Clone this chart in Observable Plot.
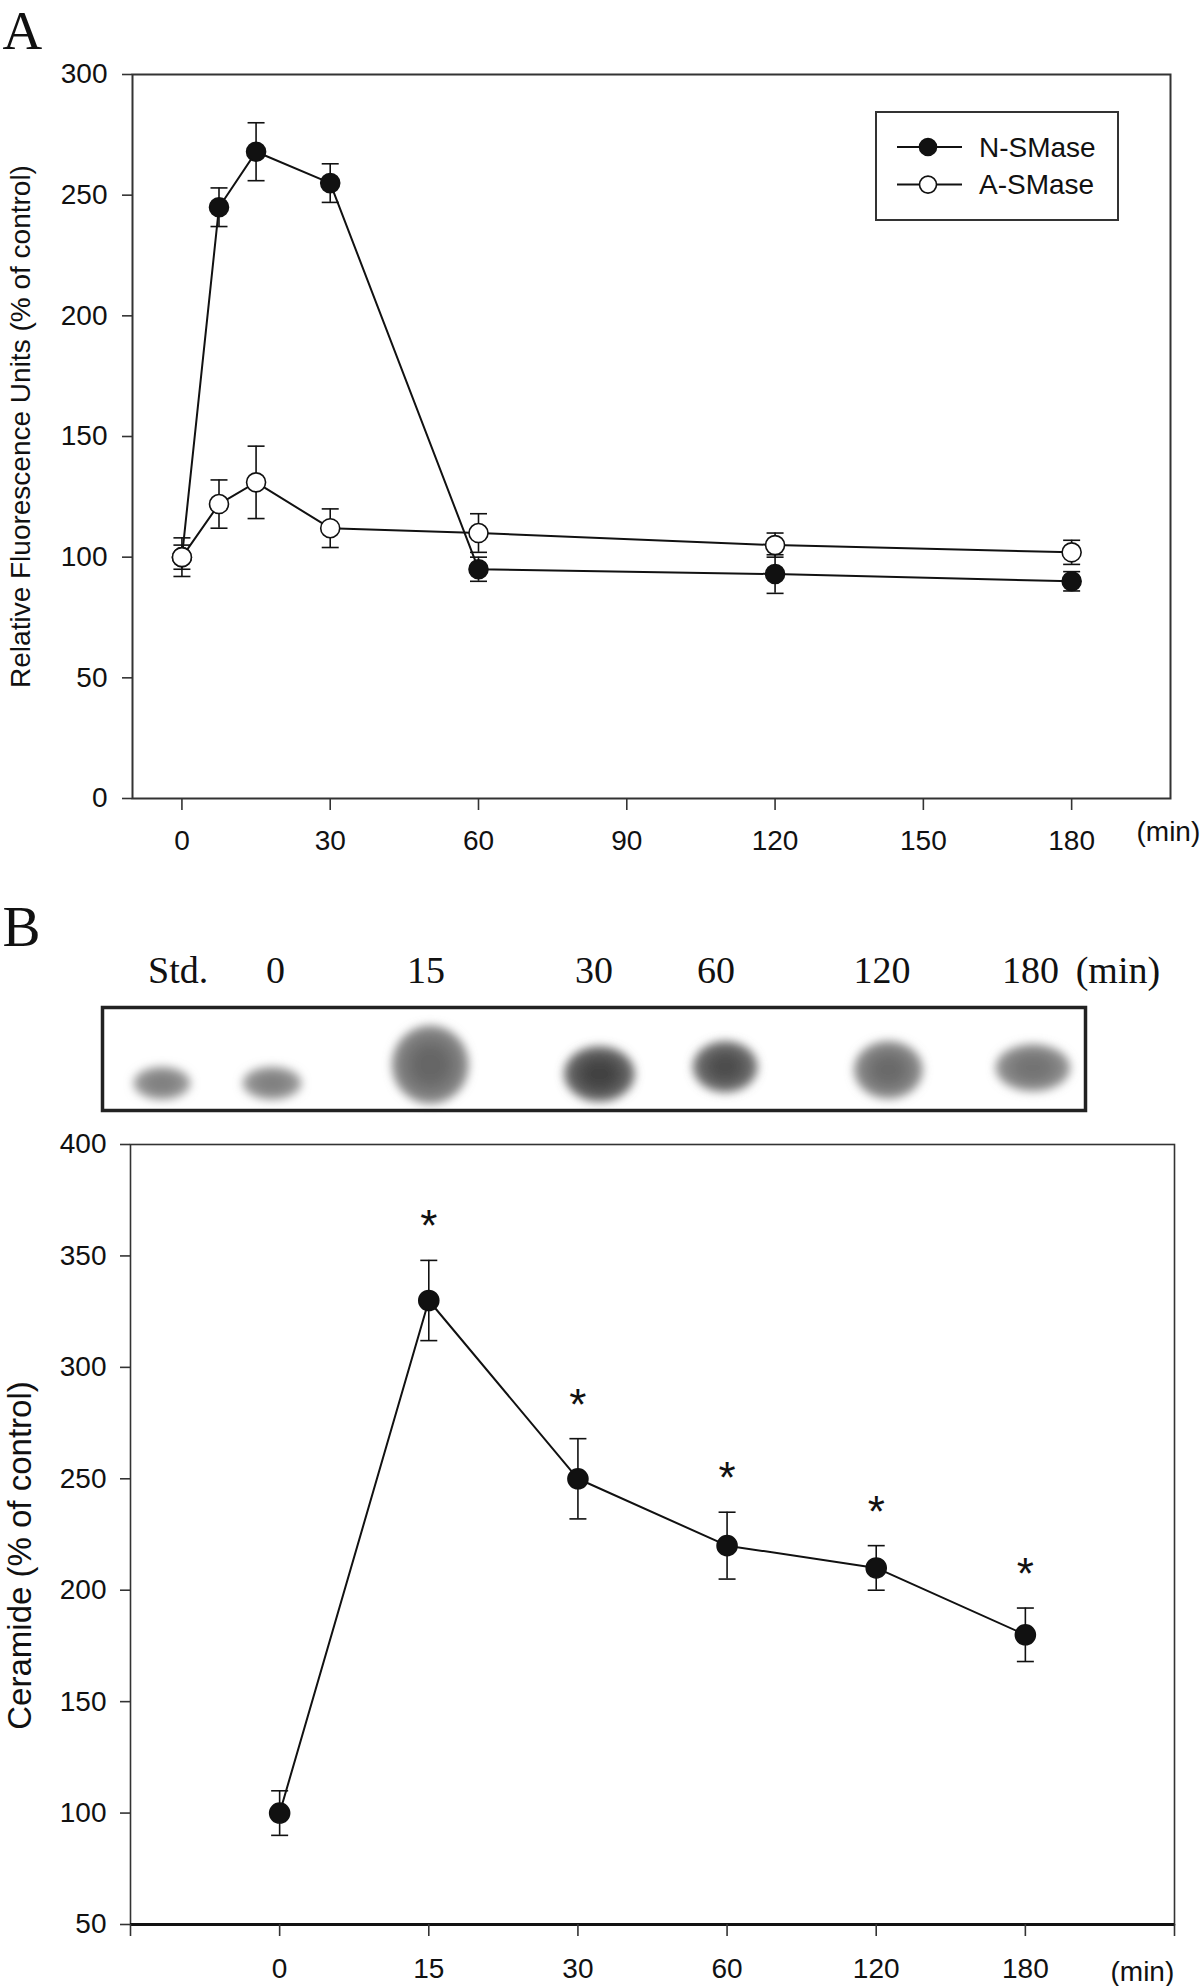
<!DOCTYPE html>
<html>
<head>
<meta charset="utf-8">
<script src="https://cdn.jsdelivr.net/npm/d3@7"></script>
<script src="https://cdn.jsdelivr.net/npm/@observablehq/plot@0.6"></script>
<style>
  body { margin: 0; background: #fff; }
  #page { position: relative; width: 1200px; height: 1986px; overflow: hidden; background: #fff; }
  .panel { position: absolute; left: 0; }
  #legendA { position: absolute; left: 875px; top: 111px; width: 244px; height: 110px;
             box-sizing: border-box; border: 2px solid #333; background: #fff; }
</style>
</head>
<body>
<div id="page">
  <div id="panelA" class="panel" style="top:0px"></div>
  <div id="legendA"></div>
  <div id="blot" class="panel" style="top:880px"></div>
  <div id="panelB" class="panel" style="top:1120px"></div>
</div>
<script>
// ---------------- Data: panel A ----------------
const seriesNames = ["N-SMase", "A-SMase"];
const timesA = [0, 7.5, 15, 30, 60, 120, 180];
const nSMase = [100, 245, 268, 255, 95, 93, 90];
const nSMaseErr = [5, 8, 12, 8, 5, 8, 4];
const aSMase = [100, 122, 131, 112, 110, 105, 102];
const aSMaseErr = [8, 10, 15, 8, 8, 5, 5];
const xTicksA = [0, 30, 60, 90, 120, 150, 180];
const yTicksA = [0, 50, 100, 150, 200, 250, 300];
const yLabelA = "Relative Fluorescence Units (% of control)";

// ---------------- Data: TLC blot ----------------
const laneLabels = ["Std.", "0", "15", "30", "60", "120", "180"];
const laneLabelX = [7.7, 17.6, 32.9, 50.0, 62.4, 79.3, 94.4];   // % of plate width
const spotX = [6.1, 17.3, 33.4, 50.6, 63.4, 80.0, 94.7];        // % of plate width
const spotY = [26, 26, 44, 35, 42, 39, 41];                      // % of plate height
const spotHalfW = [2.9, 3.0, 3.9, 3.6, 3.3, 3.5, 3.8];
const spotHalfH = [16, 16, 38, 27, 25, 28, 23];
const spotDark = [0.5, 0.5, 0.6, 0.74, 0.7, 0.58, 0.55];

// ---------------- Data: panel B ----------------
const ceramideCats = ["0", "15", "30", "60", "120", "180"];
const ceramide = [100, 330, 250, 220, 210, 180];
const ceramideErr = [10, 18, 18, 15, 10, 12];
const ceramideSig = [false, true, true, true, true, true];
const yTicksB = [50, 100, 150, 200, 250, 300, 350, 400];
const yLabelB = "Ceramide (% of control)";

// ---------------- Styles ----------------
const ink = "#111";
const sans = "'Liberation Sans', Arial, Helvetica, sans-serif";
const serif = "'Liberation Serif', 'Times New Roman', serif";
const baseStyle = {fontFamily: sans, fontSize: "28px", color: ink, background: "transparent", overflow: "visible"};

// horizontal cap symbol for error bars
const cap = {draw(ctx, size) { const w = Math.sqrt(size / Math.PI); ctx.moveTo(-w, 0); ctx.lineTo(w, 0); }};

function errMarks(data, x, fill, r) {
  return [
    Plot.ruleX(data, {x, y1: d => d.v - d.e, y2: d => d.v + d.e, stroke: ink, strokeWidth: 1.6}),
    Plot.dot(data, {x, y: d => d.v + d.e, symbol: cap, r: 8.5, stroke: ink, strokeWidth: 1.6, fill: "none"}),
    Plot.dot(data, {x, y: d => d.v - d.e, symbol: cap, r: 8.5, stroke: ink, strokeWidth: 1.6, fill: "none"}),
    Plot.line(data, {x, y: "v", stroke: ink, strokeWidth: 2}),
    Plot.dot(data, {x, y: "v", r, fill, stroke: ink, strokeWidth: 1.6})
  ];
}

// ---------------- Panel A ----------------
const nData = timesA.map((t, i) => ({series: seriesNames[0], t, v: nSMase[i], e: nSMaseErr[i]}));
const aData = timesA.map((t, i) => ({series: seriesNames[1], t, v: aSMase[i], e: aSMaseErr[i]}));

const chartA = Plot.plot({
  width: 1200, height: 880,
  marginLeft: 132, marginRight: 30, marginTop: 74, marginBottom: 82,
  style: baseStyle,
  x: {domain: [-10, 200]},
  y: {domain: [0, 300]},
  marks: [
    Plot.frame({stroke: "#333", strokeWidth: 2}),
    Plot.axisY({ticks: yTicksA, tickSize: 10, tickPadding: 15, label: null, stroke: "#333", strokeWidth: 1.6}),
    Plot.axisX({ticks: xTicksA, tickSize: 12, tickPadding: 20, label: null, stroke: "#333", strokeWidth: 1.6}),
    ...errMarks(nData, "t", ink, 9.5),
    ...errMarks(aData, "t", "white", 9.5),
    Plot.text(["(min)"], {text: d => d, frameAnchor: "bottom-right", dx: -34, dy: 34, textAnchor: "start", lineAnchor: "middle", fontSize: 28}),
    Plot.text([yLabelA], {text: d => d, frameAnchor: "left", rotate: -90, dx: -111, dy: -10, textAnchor: "middle", lineAnchor: "middle", fontSize: 28}),
    Plot.text(["A"], {text: d => d, frameAnchor: "top-left", dx: -130, dy: -26, textAnchor: "start", lineAnchor: "bottom", fontFamily: serif, fontSize: 55})
  ]
});
document.getElementById("panelA").appendChild(chartA);

// legend for panel A
(function () {
  const leg = d3.select("#legendA").append("svg").attr("width", 240).attr("height", 106)
    .style("font-family", sans).style("font-size", "28px");
  seriesNames.forEach((name, i) => {
    const y = 34 + i * 37.6;
    const g = leg.append("g");
    g.append("line").attr("x1", 20).attr("x2", 85).attr("y1", y).attr("y2", y).attr("stroke", ink).attr("stroke-width", 2);
    g.append("circle").attr("cx", 51).attr("cy", y).attr("r", 8.5)
      .attr("fill", i === 0 ? ink : "white").attr("stroke", ink).attr("stroke-width", 1.6);
    g.append("text").attr("x", 102).attr("y", y).attr("dy", "0.35em").attr("fill", ink).text(name);
  });
})();

// ---------------- TLC blot ----------------
const spotLayers = laneLabels.flatMap((lab, i) => [1, 0.72, 0.45].map((s, k) => {
  const dark = spotDark[i] * [0.8, 0.92, 1][k];
  const g = Math.round(255 * (1 - dark));
  return {lane: lab, x1: spotX[i] - spotHalfW[i] * s, x2: spotX[i] + spotHalfW[i] * s,
          y1: spotY[i] - spotHalfH[i] * s, y2: spotY[i] + spotHalfH[i] * s, fill: `rgb(${g},${g},${g})`};
}));
const laneData = laneLabels.map((label, i) => ({label, x: laneLabelX[i]}));

const blotChart = Plot.plot({
  width: 1200, height: 245,
  marginLeft: 102, marginRight: 115, marginTop: 127, marginBottom: 15,
  style: baseStyle,
  x: {domain: [0, 100], axis: null},
  y: {domain: [0, 100], axis: null},
  marks: [
    Plot.rect(spotLayers, {x1: "x1", x2: "x2", y1: "y1", y2: "y2", fill: "fill", rx: 400, ry: 400}),
    Plot.frame({stroke: "#222", strokeWidth: 3.5}),
    Plot.text(laneData, {x: "x", text: "label", frameAnchor: "top", dy: -37, lineAnchor: "middle", fontFamily: serif, fontSize: 38}),
    Plot.text([{label: "(min)", x: 103.3}], {x: "x", text: "label", frameAnchor: "top", dy: -37, lineAnchor: "middle", fontFamily: serif, fontSize: 38}),
    Plot.text(["B"], {text: d => d, frameAnchor: "top-left", dx: -100, dy: -62, textAnchor: "start", lineAnchor: "bottom", fontFamily: serif, fontSize: 57})
  ]
});
(function () {
  const svg = d3.select(blotChart);
  const f = svg.insert("defs", ":first-child").append("filter").attr("id", "spotblur")
    .attr("filterUnits", "userSpaceOnUse").attr("x", 0).attr("y", 0).attr("width", 1200).attr("height", 245);
  f.append("feGaussianBlur").attr("stdDeviation", 5);
  svg.selectAll("g[aria-label='rect']").attr("filter", "url(#spotblur)");
})();
document.getElementById("blot").appendChild(blotChart);

// ---------------- Panel B ----------------
const dataB = ceramideCats.map((c, i) => ({cat: c, k: i + 1, v: ceramide[i], e: ceramideErr[i], sig: ceramideSig[i]}));

const chartB = Plot.plot({
  width: 1200, height: 866,
  marginLeft: 130, marginRight: 26, marginTop: 24, marginBottom: 62,
  style: baseStyle,
  x: {domain: [0, ceramideCats.length + 1]},
  y: {domain: [50, 400]},
  marks: [
    Plot.frame({stroke: "#333", strokeWidth: 1.6}),
    Plot.ruleY([50], {stroke: ink, strokeWidth: 3}),
    Plot.axisY({ticks: yTicksB, tickSize: 10, tickPadding: 14, label: null, stroke: "#333", strokeWidth: 1.6}),
    Plot.axisX({ticks: d3.range(0, ceramideCats.length + 2), tickFormat: k => ceramideCats[k - 1] ?? "",
                tickSize: 12, tickPadding: 22, label: null, stroke: "#333", strokeWidth: 1.6}),
    ...errMarks(dataB, "k", ink, 10),
    Plot.text(dataB.filter(d => d.sig), {x: "k", y: d => d.v + d.e, text: () => "*", dy: -19, lineAnchor: "bottom", fontSize: 44}),
    Plot.text(["(min)"], {text: d => d, frameAnchor: "bottom-right", dx: -64, dy: 48, textAnchor: "start", lineAnchor: "middle", fontSize: 28}),
    Plot.text([yLabelB], {text: d => d, frameAnchor: "left", rotate: -90, dx: -110, dy: 21, textAnchor: "middle", lineAnchor: "middle", fontSize: 33})
  ]
});
document.getElementById("panelB").appendChild(chartB);
</script>
</body>
</html>
